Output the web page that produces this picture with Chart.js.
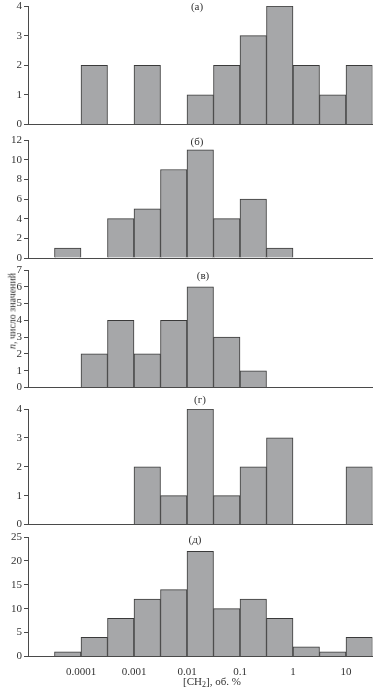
<!DOCTYPE html>
<html>
<head>
<meta charset="utf-8">
<script src="https://cdn.jsdelivr.net/npm/chart.js@4/dist/chart.umd.min.js"></script>
<style>
  html, body { margin: 0; padding: 0; background: #fff; overflow: hidden; }
  body { width: 374px; height: 694px; position: relative; font-family: "Liberation Serif", serif; color: #333; }
  canvas { position: absolute; left: 0; }
  .xtitle { position: absolute; left: 0; width: 424px; top: 675px; text-align: center; font-size: 11px; line-height: 12px; }
  .xtitle sub { font-size: 8px; line-height: 0; vertical-align: baseline; position: relative; top: 2px; }
  .ytitle { position: absolute; left: 12px; top: 311px; font-size: 10px; white-space: nowrap;
            transform: translate(-50%, -50%) rotate(-90deg); }
</style>
</head>
<body>
<canvas id="c0"></canvas>
<canvas id="c1"></canvas>
<canvas id="c2"></canvas>
<canvas id="c3"></canvas>
<canvas id="c4"></canvas>
<div class="ytitle"><i>n</i>, число значений</div>
<div class="xtitle">[CH<sub>2</sub>], об. %</div>
<script>
// half-decade bins, lower edge as log10 of [CH2], об. %
const binLo = [-4.5, -4, -3.5, -3, -2.5, -2, -1.5, -1, -0.5, 0, 0.5, 1];

const countsA = [0, 2, 0, 2, 0, 1, 2, 3, 4, 2, 1, 2];
const countsB = [1, 0, 4, 5, 9, 11, 4, 6, 1, 0, 0, 0];
const countsV = [0, 2, 4, 2, 4, 6, 3, 1, 0, 0, 0, 0];
const countsG = [0, 0, 0, 2, 1, 4, 1, 2, 3, 0, 0, 2];
const countsD = [1, 4, 8, 12, 14, 22, 10, 12, 8, 2, 1, 4];

const panelNames = ["(а)", "(б)", "(в)", "(г)", "(д)"];
const yMax  = [4, 12, 7, 4, 25];
const yStep = [1, 2, 1, 1, 5];

const xTickVals   = [-4, -3, -2, -1, 0, 1];
const xTickLabels = ["0.0001", "0.001", "0.01", "0.1", "1", "10"];

// page layout: plot area top/bottom, panel letter position
const areas = [
  { top: 6,     bottom: 124.5, lx: 197, ly: 7 },
  { top: 139.5, bottom: 257.5, lx: 197, ly: 142 },
  { top: 270,   bottom: 387.5, lx: 203, ly: 276 },
  { top: 409,   bottom: 524.5, lx: 200, ly: 400 },
  { top: 536.5, bottom: 655.5, lx: 195, ly: 540 },
];
const allCounts = [countsA, countsB, countsV, countsG, countsD];

const FONT = "Liberation Serif";
const AXIS = "#4a4a4a";
const PAD_TOP = 18;

function letterPlugin(text, x, y) {
  return {
    id: "letter",
    afterDraw(chart) {
      const ctx = chart.ctx;
      ctx.save();
      ctx.font = `11px "${FONT}"`;
      ctx.fillStyle = "#333";
      ctx.textAlign = "center";
      ctx.textBaseline = "middle";
      ctx.fillText(text, x, y);
      ctx.restore();
    },
  };
}

allCounts.forEach((counts, i) => {
  const a = areas[i];
  const last = i === allCounts.length - 1;
  const canvasTop = a.top - PAD_TOP;
  const h = last ? 694 - canvasTop : (a.bottom - a.top) + PAD_TOP + 10;
  const cv = document.getElementById("c" + i);
  cv.width = 374;
  cv.height = Math.ceil(h);
  cv.style.top = canvasTop + "px";

  new Chart(cv.getContext("2d"), {
    type: "bar",
    data: {
      datasets: [{
        data: counts.map((c, k) => ({ x: binLo[k] + 0.25, y: c || null })),
        backgroundColor: "#a6a7a9",
        borderColor: "#3a3a3a",
        borderWidth: 1,
        barPercentage: 1,
        categoryPercentage: 1,
      }],
    },
    options: {
      responsive: false,
      animation: false,
      devicePixelRatio: 1,
      events: [],
      layout: { padding: { top: PAD_TOP, right: 1.5, left: 0, bottom: last ? 0 : cv.height - PAD_TOP - (a.bottom - a.top) } },
      plugins: { legend: { display: false }, tooltip: { enabled: false } },
      scales: {
        x: {
          type: "linear",
          min: -5,
          max: 1.5,
          offset: false,
          afterFit: (s) => { s.height = last ? 38.5 : 0; },
          afterBuildTicks: (s) => { s.ticks = xTickVals.map((v) => ({ value: v })); },
          grid: { display: false, drawTicks: false, offset: false },
          border: { display: true, color: AXIS, width: 1 },
          ticks: {
            display: last,
            autoSkip: false,
            maxRotation: 0,
            padding: 9,
            color: "#333",
            font: { family: FONT, size: 11 },
            callback: (v, idx) => xTickLabels[idx],
          },
        },
        y: {
          min: 0,
          max: yMax[i],
          afterFit: (s) => { s.width = 28; },
          grid: { display: true, drawOnChartArea: false, drawTicks: true, tickLength: 4, color: AXIS, lineWidth: 1 },
          border: { display: true, color: AXIS, width: 1 },
          ticks: {
            stepSize: yStep[i],
            padding: 2,
            color: "#333",
            font: { family: FONT, size: 11 },
          },
        },
      },
    },
    plugins: [letterPlugin(panelNames[i], a.lx, a.ly - canvasTop)],
  });
});
</script>
</body>
</html>
